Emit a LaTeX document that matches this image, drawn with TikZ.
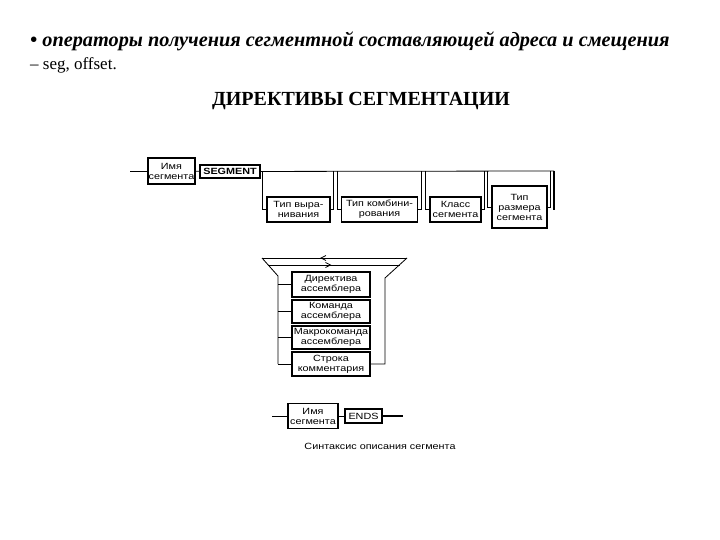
\documentclass[tikz,border=0pt]{standalone}
\usepackage{fontspec}
\setmainfont{Liberation Serif}
\newfontfamily\boxfont[FakeStretch=1.2]{Liberation Sans}
\usetikzlibrary{arrows.meta,decorations.markings}
\tikzstyle{elem}=[rectangle, draw=black, line width=1.2pt, fill=white, inner sep=0pt,
                  text centered, align=center,
                  font=\boxfont\fontsize{9}{10}\selectfont]
\tikzstyle{link}=[thick]
\tikzset{loopdir/.style={thick, postaction={decorate}, decoration={markings,
                  mark=at position #1 with {\arrow{Straight Barb[length=5pt,width=5pt]}}}}}

\begin{document}
\begin{tikzpicture}[x=1pt, y=-1pt]
  \useasboundingbox (0,0) rectangle (720,540);

  % ── heading ────────────────────────────────────────────────────────────────
  \node[anchor=base west, inner sep=0pt, font=\fontsize{20.3}{22}\selectfont\bfseries\itshape]
        (op)    at (30,47)  {• операторы получения сегментной составляющей адреса и смещения};
  \node[anchor=base west, inner sep=0pt, font=\fontsize{17}{22}\selectfont]
        (ops)   at (30,70)  {– seg, offset.};
  \node[anchor=base, inner sep=0pt, font=\fontsize{20}{22}\selectfont\bfseries]
        (title) at (361,106) {ДИРЕКТИВЫ СЕГМЕНТАЦИИ};

  % ── SEGMENT row ────────────────────────────────────────────────────────────
  \coordinate (topin)  at (130,171);
  \coordinate (topend) at (554,171);
  \coordinate (topout) at (554,210);
  \node[elem, minimum width=47, minimum height=26] (name1)   at (171.5,171) {Имя\\сегмента};
  \node[elem, minimum width=60, minimum height=13,
        font=\boxfont\fontsize{9}{10}\selectfont\bfseries] (segkw) at (230,171.5) {SEGMENT};
  \node[elem, minimum width=63, minimum height=25] (align)   at (298.5,209.5) {Тип выра-\\нивания};
  \node[elem, minimum width=76, minimum height=25] (combine) at (379.5,209.5) {Тип комбини-\\рования};
  \node[elem, minimum width=51, minimum height=25] (class)   at (455.5,209.5) {Класс\\сегмента};
  \node[elem, minimum width=55, minimum height=42] (size)    at (519.5,207) {Тип\\размера\\сегмента};

  \draw[link] (topin) -- (name1);
  \draw[link] (name1) -- (segkw);
  \draw[link] (segkw) -- (topend);
  \draw[very thick] (topend) -- (topout);
  \foreach \b in {align,combine,class,size}{
    \draw[link] (\b.west) -- ++(-4,0) coordinate (l) -- (l |- topend);
    \draw[link] (\b.east) -- ++(3,0)  coordinate (r) -- (r |- topend);
  }

  % ── body loop ──────────────────────────────────────────────────────────────
  \node[elem, minimum width=78, minimum height=25] (dir)   at (331,284.5) {Директива\\ассемблера};
  \node[elem, minimum width=78, minimum height=23] (cmd)   at (331,311.5) {Команда\\ассемблера};
  \node[elem, minimum width=78, minimum height=23] (macro) at (331,337.5) {Макрокоманда\\ассемблера};
  \node[elem, minimum width=78, minimum height=24] (cmnt)  at (331,364)   {Строка\\комментария};

  \coordinate (lt) at (262,258);
  \coordinate (rt) at (407,258);
  \coordinate (lb) at (278,276);
  \coordinate (rb) at (385,278);
  \coordinate (li) at (268,265);
  \coordinate (ri) at (400,265);

  \draw[loopdir=0.6]  (rt) -- (lt);
  \draw[loopdir=0.48] (li) -- (ri);
  \draw[link] (lt) -- (lb) -- (lb |- cmnt.west);
  \draw[link] (rt) -- (rb) |- (cmnt.east);
  \foreach \b in {dir,cmd,macro,cmnt}
    \draw[link] (lb |- \b.west) -- (\b.west);

  % ── ENDS row ───────────────────────────────────────────────────────────────
  \coordinate (endin)  at (272,416);
  \coordinate (endout) at (403,416);
  \node[elem, minimum width=50, minimum height=25] (name2) at (313,416) {Имя\\сегмента};
  \node[elem, minimum width=37, minimum height=14] (ends)  at (363.5,416) {ENDS};
  \draw[link] (endin) -- (name2);
  \draw[link] (name2) -- (ends);
  \draw[very thick] (ends) -- (endout);

  \node[font=\boxfont\fontsize{9}{10}\selectfont] (cap) at (380,446) {Синтаксис описания сегмента};

\end{tikzpicture}
\end{document}
